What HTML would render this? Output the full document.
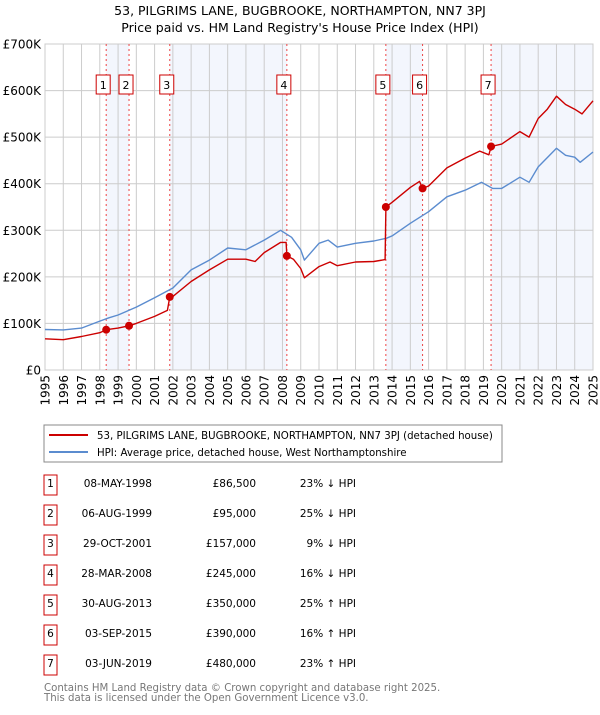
<!DOCTYPE html>
<html><head><meta charset="utf-8"><style>
body{margin:0;width:600px;height:710px;background:#fff;font-family:"Liberation Sans","DejaVu Sans",sans-serif;overflow:hidden}
svg text{font-family:"DejaVu Sans","Liberation Sans",sans-serif}
</style></head><body>
<svg id="c" width="600" height="710" xmlns="http://www.w3.org/2000/svg"></svg>
<script>
const yearTicks=[1995,1996,1997,1998,1999,2000,2001,2002,2003,2004,2005,2006,2007,2008,2009,2010,2011,2012,2013,2014,2015,2016,2017,2018,2019,2020,2021,2022,2023,2024,2025];
const yTicks=[0,100000,200000,300000,400000,500000,600000,700000];
const yTickLabels=["£0","£100K","£200K","£300K","£400K","£500K","£600K","£700K"];
const hpiT=[1995,1996,1997,1998,1998.5,1999,2000,2001,2002,2003,2004,2005,2006,2007,2007.9,2008.5,2009,2009.2,2010,2010.5,2011,2012,2013,2013.7,2014,2015,2016,2017,2018,2018.9,2019.5,2020,2021,2021.5,2022,2023,2023.5,2024,2024.3,2025];
const hpiV=[87000,86000,90000,105000,112000,118000,135000,155000,176000,215000,236000,262000,258000,279000,300000,285000,258000,236000,272000,279000,264000,272000,277000,283000,288000,315000,340000,372000,386000,403000,390000,390000,414000,403000,436000,476000,461000,457000,446000,468000];
const priceT=[1995,1996,1997,1998,1998.35,1999,1999.6,2000,2001,2001.7,2001.83,2002,2003,2004,2005,2006,2006.5,2007,2007.9,2008.2,2008.24,2008.6,2009,2009.2,2010,2010.6,2011,2012,2013,2013.62,2013.66,2014,2015,2015.5,2015.67,2016,2017,2018,2018.8,2019.3,2019.42,2020,2021,2021.5,2022,2022.5,2023,2023.5,2024,2024.4,2025];
const priceV=[67000,65000,72000,80000,86500,90000,95000,100000,115000,128000,157000,158000,190000,215000,238000,238000,233000,252000,274000,274000,245000,238000,218000,198000,222000,232000,224000,232000,233000,237000,350000,360000,392000,405000,390000,395000,434000,455000,470000,462000,480000,485000,512000,500000,540000,560000,588000,570000,560000,550000,578000];
const saleT=[1998.35,1999.6,2001.83,2008.24,2013.66,2015.67,2019.42];
const saleV=[86500,95000,157000,245000,350000,390000,480000];
const saleLabels=["1","2","3","4","5","6","7"];
const saleDates=["08-MAY-1998","06-AUG-1999","29-OCT-2001","28-MAR-2008","30-AUG-2013","03-SEP-2015","03-JUN-2019"];
const salePrices=["£86,500","£95,000","£157,000","£245,000","£350,000","£390,000","£480,000"];
const saleHpi=["23% ↓ HPI","25% ↓ HPI","9% ↓ HPI","16% ↓ HPI","25% ↑ HPI","16% ↑ HPI","23% ↑ HPI"];

const L=45,R=593,T=44,B=370;
const X=t=>L+(t-1995)/(2025-1995)*(R-L);
const Y=v=>B-v/700000*(B-T);
const svg=document.getElementById('c');
const NS="http://www.w3.org/2000/svg";
function mk(tag,attrs,parent){const e=document.createElementNS(NS,tag);for(const k in attrs)e.setAttribute(k,attrs[k]);(parent||svg).appendChild(e);return e;}

let t;
t=mk('text',{x:300,y:15,'text-anchor':'middle','font-size':12.5,fill:'#000'});t.textContent="53, PILGRIMS LANE, BUGBROOKE, NORTHAMPTON, NN7 3PJ";


t=mk('text',{x:300,y:32,'text-anchor':'middle','font-size':12.5,fill:'#000'});t.textContent="Price paid vs. HM Land Registry's House Price Index (HPI)";



const bands=[[0,1],[2,3],[4,5],[6,-1]];
bands.forEach((b,i)=>{const x1=X(saleT[b[0]]),x2=b[1]<0?R:X(saleT[b[1]]);
 const r=mk('rect',{x:x1,y:T,width:x2-x1,height:B-T,fill:'#f3f6fd'});
 
 });

yearTicks.forEach(y=>{const l=mk('line',{x1:X(y),x2:X(y),y1:T,y2:B,stroke:'#cccccc','stroke-width':1});
 
 
 const tx=mk('text',{transform:`translate(${X(y)+4.5},${B+5}) rotate(-90)`,'text-anchor':'end','font-size':12,fill:'#000'});tx.textContent=y;
 
 });
yTicks.forEach((v,i)=>{const l=mk('line',{x1:L,x2:R,y1:Y(v),y2:Y(v),stroke:'#cccccc','stroke-width':1});
 
 
 const tx=mk('text',{x:L-4,y:Y(v)+4.5,'text-anchor':'end','font-size':12,fill:'#000'});tx.textContent=yTickLabels[i];
 
 });
const fr=mk('rect',{x:L,y:T,width:R-L,height:B-T,fill:'none',stroke:'#cccccc'});



saleT.forEach((s,i)=>{const l=mk('line',{x1:X(s),x2:X(s),y1:T,y2:B,stroke:'#ee4444','stroke-width':1,'stroke-dasharray':'2,3'});
 
 });

function path(ts,vs,color,name){const d=ts.map((tt,i)=>(i?'L':'M')+X(tt).toFixed(1)+','+Y(vs[i]).toFixed(1)).join('');
 const p=mk('path',{d:d,fill:'none',stroke:color,'stroke-width':1.4,'stroke-linejoin':'round'});
 
 }
path(hpiT,hpiV,'#5b8ccf','hpi-line');
path(priceT,priceV,'#cc0000','price-paid-line');

saleT.forEach((s,i)=>{const c=mk('circle',{cx:X(s),cy:Y(saleV[i]),r:4,fill:'#cc0000'});
 
 
 const g=mk('g',{});
 
 
 mk('rect',{x:X(s)-10,y:75,width:14,height:19,fill:'#fff',stroke:'#cc0000'},g);
 const tx=mk('text',{x:X(s)-3,y:89,'text-anchor':'middle','font-size':11,fill:'#000'},g);tx.textContent=saleLabels[i];});

const lg=mk('g',{});


mk('rect',{x:44,y:425,width:458,height:37,fill:'#fff',stroke:'#888'},lg);
mk('line',{x1:49,x2:88,y1:435,y2:435,stroke:'#cc0000','stroke-width':2},lg);
mk('line',{x1:49,x2:88,y1:452,y2:452,stroke:'#5b8ccf','stroke-width':2},lg);
t=mk('text',{x:97,y:439,'font-size':10.2,fill:'#000'},lg);t.textContent="53, PILGRIMS LANE, BUGBROOKE, NORTHAMPTON, NN7 3PJ (detached house)";
t=mk('text',{x:97,y:456,'font-size':10.2,fill:'#000'},lg);t.textContent="HPI: Average price, detached house, West Northamptonshire";

saleLabels.forEach((lab,i)=>{const cy=483+i*30;
 const g=mk('g',{});
 
 
 mk('rect',{x:44,y:cy-8,width:13,height:20,fill:'#fff',stroke:'#cc0000'},g);
 let tx=mk('text',{x:50.5,y:cy+4,'text-anchor':'middle','font-size':10.5},g);tx.textContent=lab;
 tx=mk('text',{x:152,y:cy+4,'text-anchor':'end','font-size':10.5},g);tx.textContent=saleDates[i];
 tx=mk('text',{x:256,y:cy+4,'text-anchor':'end','font-size':10.5},g);tx.textContent=salePrices[i];
 tx=mk('text',{x:356,y:cy+4,'text-anchor':'end','font-size':10.5},g);tx.textContent=saleHpi[i];});

t=mk('text',{x:44,y:691,'font-size':10.2,fill:'#777'});t.textContent="Contains HM Land Registry data © Crown copyright and database right 2025.";


t=mk('text',{x:44,y:701,'font-size':10.2,fill:'#777'});t.textContent="This data is licensed under the Open Government Licence v3.0.";


</script>
</body></html>
